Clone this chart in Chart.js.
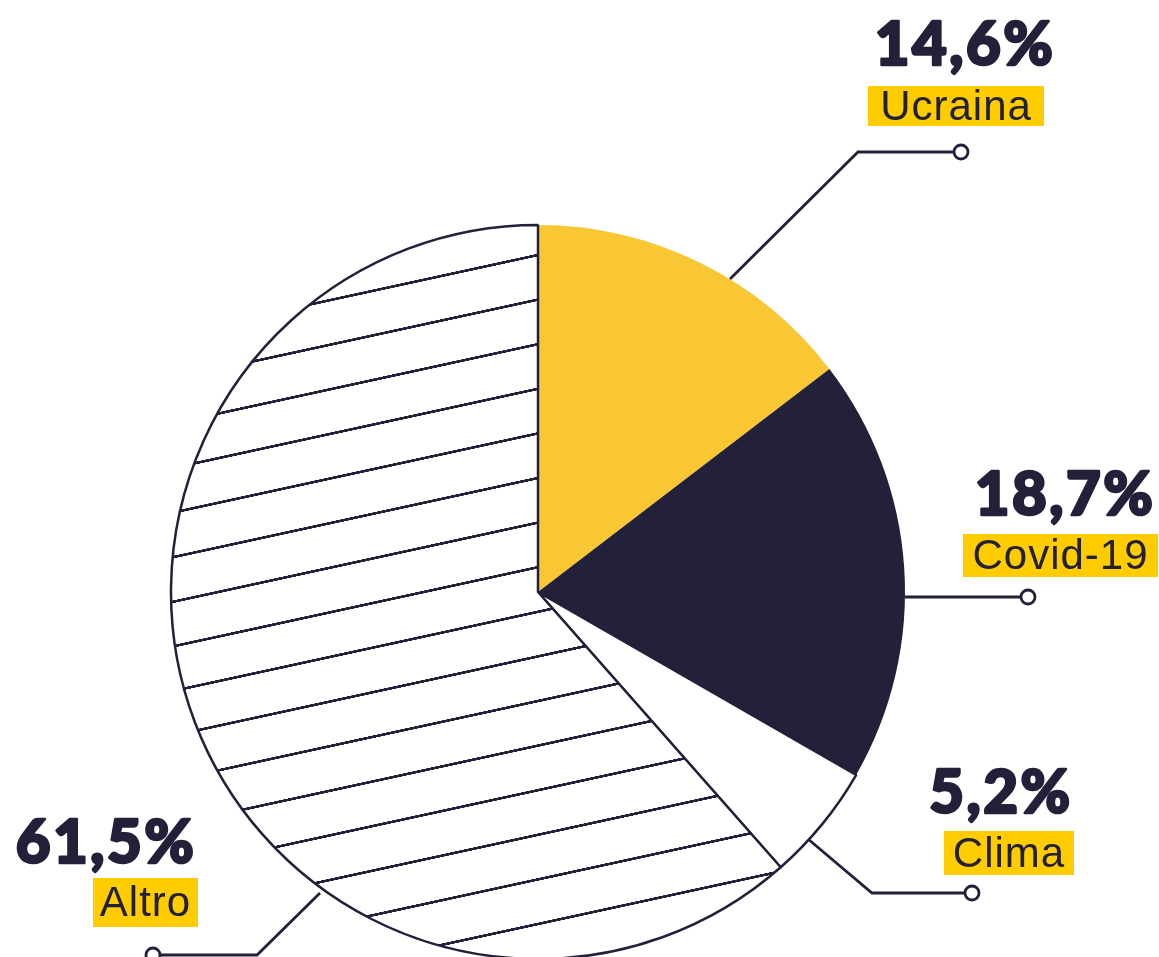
<!DOCTYPE html>
<html>
<head>
<meta charset="utf-8">
<script src="https://cdn.jsdelivr.net/npm/chart.js@4/dist/chart.umd.min.js"></script>
<style>
  html, body { margin: 0; padding: 0; background: #fff; overflow: hidden; }
  #wrap { position: relative; width: 1159px; height: 957px; }
</style>
</head>
<body>
<div id="wrap"><canvas id="myChart"></canvas></div>
<script>
const CATEGORIES = ["Ucraina", "Covid-19", "Clima", "Altro"];
const VALUES = [14.6, 18.7, 5.2, 61.5];

const DARK = "#23203a";
const YELLOW = "#f9c734";
const TAG_YELLOW = "#ffcc00";

// where each label sits (text centre, box, leader line with end dot)
const LABELS = [
  { pctX: 965, pctY: 65, box: [868, 86, 176, 40], line: [[730, 279], [858, 152], [961, 152]] },
  { pctX: 1065, pctY: 515, box: [963, 534, 195, 43], line: [[905, 597], [1028, 597]] },
  { pctX: 1001, pctY: 813, box: [944, 831, 130, 44], line: [[808, 839], [872, 893], [972, 893]] },
  { pctX: 106, pctY: 863, box: [93, 878, 105, 49], line: [[320, 893], [257, 955], [153, 955]] },
];

const ctx = document.getElementById("myChart").getContext("2d");

// hatch for "Altro": thin dark lines rising to the right
const makeHatch = () => {
  const tile = document.createElement("canvas");
  tile.width = 40;
  tile.height = 178;
  const t = tile.getContext("2d");
  t.fillStyle = "#fff";
  t.fillRect(0, 0, 40, 178);
  t.fillStyle = DARK;
  t.fillRect(0, 83, 40, 11);
  const p = ctx.createPattern(tile, "repeat");
  const slope = -0.217;
  const s = 0.25;
  const d = 44.6 / 178;
  const f = 255 - slope * 538 - d * 88.5;
  p.setTransform(new DOMMatrix([s, slope * s, 0, d, 0, f]));
  return p;
};

const labelPlugin = {
  id: "labels",
  afterDraw(chart) {
    const c = chart.ctx;
    c.save();
    LABELS.forEach((lab, i) => {
      // leader
      c.strokeStyle = DARK;
      c.lineWidth = 2.8;
      c.lineJoin = "miter";
      c.beginPath();
      lab.line.forEach((pt, j) => (j ? c.lineTo(pt[0], pt[1]) : c.moveTo(pt[0], pt[1])));
      c.stroke();
      const end = lab.line[lab.line.length - 1];
      c.beginPath();
      c.arc(end[0], end[1], 7, 0, Math.PI * 2);
      c.fillStyle = "#fff";
      c.fill();
      c.stroke();

      // percentage (stroked too, to get the heavy look)
      c.fillStyle = DARK;
      c.textAlign = "center";
      c.textBaseline = "alphabetic";
      c.font = "900 60px 'Lato Black', Lato";
      c.letterSpacing = "2.5px";
      c.lineWidth = 2.6;
      c.lineJoin = "round";
      const txt = VALUES[i].toFixed(1).replace(".", ",") + "%";
      c.fillText(txt, lab.pctX, lab.pctY);
      c.strokeText(txt, lab.pctX, lab.pctY);

      // tag
      const [bx, by, bw, bh] = lab.box;
      c.fillStyle = TAG_YELLOW;
      c.fillRect(bx, by, bw, bh);
      c.fillStyle = DARK;
      c.font = "42px 'Liberation Sans', Arial, sans-serif";
      c.letterSpacing = "1px";
      c.textBaseline = "middle";
      c.fillText(CATEGORIES[i], bx + bw / 2, by + bh / 2 + 2);
      c.letterSpacing = "0px";
    });
    c.restore();
  },
};

const myChart = new Chart(ctx, {
  type: "pie",
  data: {
    labels: CATEGORIES,
    datasets: [
      {
        data: VALUES,
        backgroundColor: [YELLOW, DARK, "#ffffff", makeHatch()],
        borderColor: DARK,
        borderWidth: [0, 0, 2.5, 2.5],
        clip: false,
      },
    ],
  },
  options: {
    responsive: true,
    maintainAspectRatio: false,
    animation: false,
    events: [],
    radius: 367,
    layout: { padding: { left: 0, right: 83, top: 227, bottom: 0 } },
    plugins: {
      legend: { display: false },
      tooltip: { enabled: false },
    },
  },
  plugins: [labelPlugin],
});
</script>
</body>
</html>
